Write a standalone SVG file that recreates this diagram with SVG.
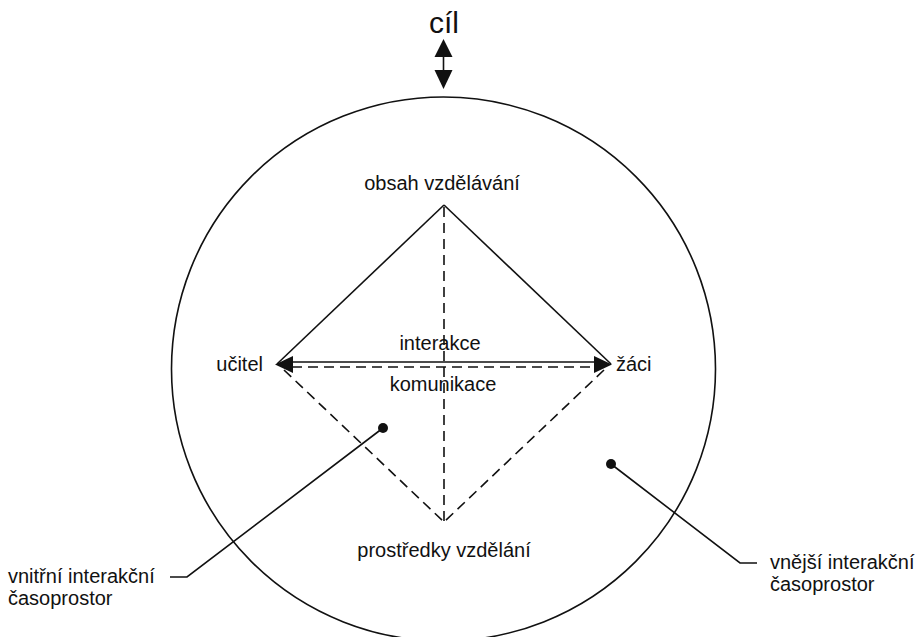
<svg xmlns="http://www.w3.org/2000/svg" width="919" height="637" viewBox="0 0 919 637">
  <style>
    text { font-family: "Liberation Sans", Arial, sans-serif; font-size: 20px; fill: #111; }
    .solid { stroke: #111; stroke-width: 1.6; fill: none; }
    .dash { stroke: #111; stroke-width: 1.6; fill: none; stroke-dasharray: 10 6; }
    .head { fill: #111; }
  </style>

  <!-- outer interaction space -->
  <g id="outer-space">
    <circle class="solid" cx="443.5" cy="369" r="272"/>
  </g>

  <!-- goal with two-way arrow -->
  <g id="goal">
    <text x="444" y="33" text-anchor="middle" style="font-size:30px">cíl</text>
    <line class="solid" x1="443.5" y1="55" x2="443.5" y2="72" stroke-width="2"/>
    <polygon class="head" points="443.5,39 434.5,57 452.5,57"/>
    <polygon class="head" points="443.5,89 434.5,70 452.5,70"/>
  </g>

  <!-- connectors of the didactic tetrahedron -->
  <g id="connectors">
    <line class="solid" x1="444" y1="205" x2="277" y2="364"/>
    <line class="solid" x1="444" y1="205" x2="611" y2="364"/>
    <line class="solid" x1="290" y1="362" x2="598" y2="362"/>
    <line class="dash" x1="292" y1="367" x2="596" y2="367"/>
    <line class="dash" x1="284" y1="370" x2="444" y2="522"/>
    <line class="dash" x1="604" y1="370" x2="444" y2="522"/>
    <line class="dash" x1="444" y1="207" x2="444" y2="522"/>
    <polygon class="head" points="275,364.5 293,356 293,373"/>
    <polygon class="head" points="612,364.5 594,356 594,373"/>
    <!-- leaders to the space labels -->
    <polyline class="solid" points="383,428 187,577 170,577"/>
    <polyline class="solid" points="611,464 740,563 757,563"/>
    <circle class="head" cx="383" cy="428" r="5"/>
    <circle class="head" cx="611" cy="464" r="5"/>
  </g>

  <g id="content">
    <text x="442" y="190" text-anchor="middle">obsah vzdělávání</text>
  </g>
  <g id="teacher">
    <text x="263" y="371" text-anchor="end">učitel</text>
  </g>
  <g id="pupils">
    <text x="616" y="371">žáci</text>
  </g>
  <g id="interaction">
    <text x="440" y="350" text-anchor="middle">interakce</text>
  </g>
  <g id="communication">
    <text x="443" y="391" text-anchor="middle">komunikace</text>
  </g>
  <g id="means">
    <text x="444" y="557" text-anchor="middle">prostředky vzdělání</text>
  </g>
  <g id="inner-label">
    <text x="8" y="583">vnitřní interakční</text>
    <text x="8" y="605">časoprostor</text>
  </g>
  <g id="outer-label">
    <text x="770" y="569">vnější interakční</text>
    <text x="770" y="591">časoprostor</text>
  </g>
</svg>
